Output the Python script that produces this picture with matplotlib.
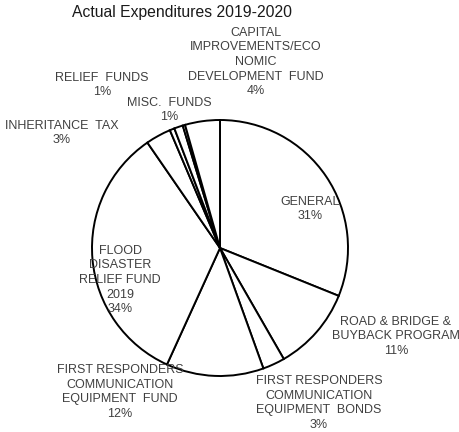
import matplotlib
matplotlib.use("Agg")
import matplotlib.pyplot as plt

# Data (clockwise from 12 o'clock)
categories = [
    "GENERAL",
    "ROAD & BRIDGE &\nBUYBACK PROGRAM",
    "FIRST RESPONDERS\nCOMMUNICATION\nEQUIPMENT  BONDS",
    "FIRST RESPONDERS\nCOMMUNICATION\nEQUIPMENT  FUND",
    "FLOOD\nDISASTER\nRELIEF FUND\n2019",
    "INHERITANCE  TAX",
    "RELIEF  FUNDS",
    "MISC.  FUNDS",
    "",
    "CAPITAL\nIMPROVEMENTS/ECO\nNOMIC\nDEVELOPMENT  FUND",
]
values = [31.1, 10.6, 2.8, 12.3, 33.6, 3.2, 0.6, 1.1, 0.3, 4.4]

# label centres (data units, pie radius = 1)
label_pos = [
    (0.703, 0.305),
    (1.375, -0.69),
    (0.773, -1.21),
    (-0.781, -1.125),
    (-0.781, -0.25),
    (-1.234, 0.898),
    (-0.922, 1.273),
    (-0.398, 1.078),
    (0.0, 0.0),
    (0.281, 1.453),
]

W, H = 460, 432
fig = plt.figure(figsize=(W / 100, H / 100), dpi=100)
cx, cy, R = 220, 248, 128
ax = fig.add_axes([(cx - R) / W, (H - cy - R) / H, 2 * R / W, 2 * R / H])
ax.pie(values, startangle=90, counterclock=False, radius=1,
       colors=["white"] * len(values),
       wedgeprops=dict(edgecolor="black", linewidth=1.4))
ax.set_xlim(-1, 1)
ax.set_ylim(-1, 1)
ax.set_aspect("equal")
ax.axis("off")

total = sum(values)
for name, v, (x, y) in zip(categories, values, label_pos):
    if not name:
        continue
    pct = round(v / total * 100)
    ax.text(x, y, f"{name}\n{pct}%", ha="center", va="center",
            fontsize=9, color="#404040", family="Liberation Sans",
            linespacing=1.3, clip_on=False)

fig.text(182 / W, 1 - 12 / H, "Actual Expenditures 2019-2020", ha="center",
         va="center", fontsize=11.3, color="#1a1a1a", family="Liberation Sans")

fig.savefig("out.png", dpi=100, facecolor="white")
